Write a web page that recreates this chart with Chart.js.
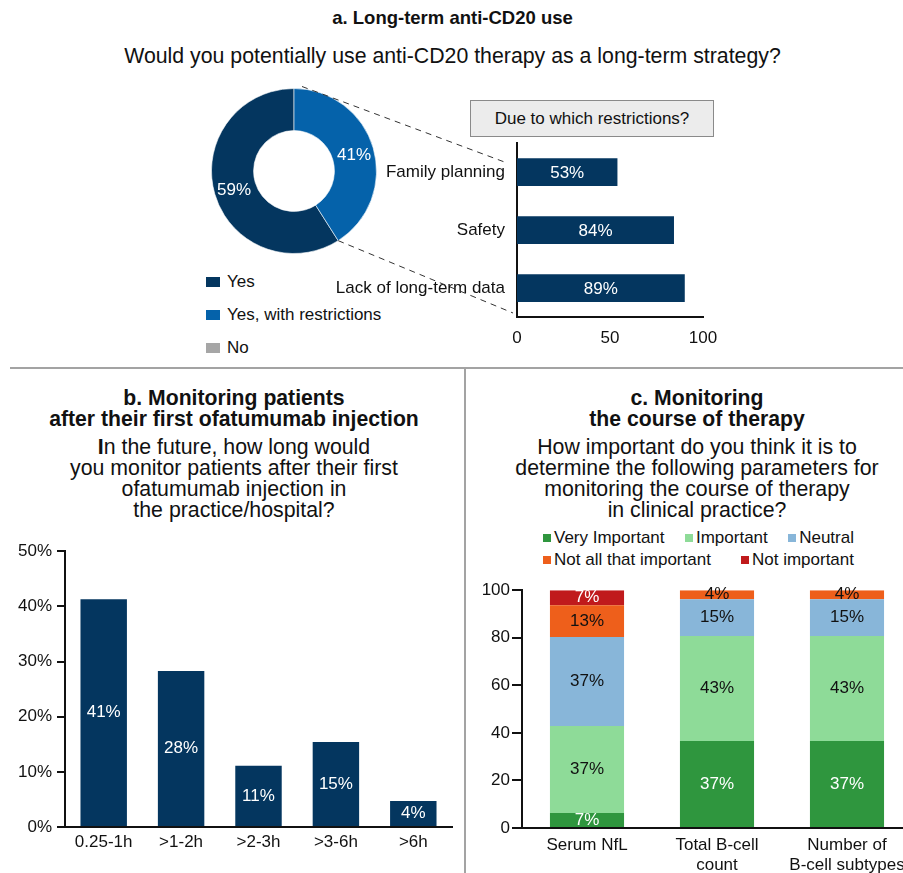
<!DOCTYPE html>
<html>
<head>
<meta charset="utf-8">
<script src="https://cdn.jsdelivr.net/npm/chart.js@4.4.1/dist/chart.umd.min.js"></script>
<style>
  html, body { margin: 0; padding: 0; background: #fff; width: 903px; height: 873px; overflow: hidden; }
  body { position: relative; font-family: "Liberation Sans", Arial, sans-serif; color: #111; }
  .abs { position: absolute; }
  .title { text-align: center; font-weight: bold; font-size: 18.5px; line-height: 20px; }
  .title.big { font-size: 21.2px; line-height: 20.5px; }
  .sub { text-align: center; font-size: 21.3px; line-height: 21px; }
  canvas { position: absolute; }
  .box { background: #ececec; border: 1px solid #8a8a8a; box-sizing: border-box; font-size: 17px; text-align: center; line-height: 35px; }
  .leg-a div { height: 33px; line-height: 33px; font-size: 17px; display: flex; align-items: center; }
  .leg-a span.sw { display: inline-block; width: 14px; height: 10px; margin-right: 7px; }
  .leg-c { display: flex; justify-content: space-between; width: 311px; font-size: 17px; line-height: 22px; }
  .leg-c span.sw { display: inline-block; width: 8px; height: 8px; margin-right: 3px; vertical-align: 1px; }
</style>
</head>
<body>

<div class="abs title" style="left:0;top:8px;width:905px">a. Long-term anti-CD20 use</div>
<div class="abs sub" style="left:0;top:46px;width:905px">Would you potentially use anti-CD20 therapy as a long-term strategy?</div>
<div class="abs box" style="left:470px;top:100px;width:244px;height:37px">Due to which restrictions?</div>
<div class="abs leg-a" id="legA" style="left:206px;top:265px"></div>

<div class="abs" style="left:10px;top:367px;width:893px;height:2px;background:#a3a3a3"></div>
<div class="abs" style="left:464px;top:369px;width:2px;height:504px;background:#a3a3a3"></div>

<div class="abs title big" style="left:0;top:388px;width:468px">b. Monitoring patients<br>after their first ofatumumab injection</div>
<div class="abs sub" style="left:0;top:437px;width:468px"><b>I</b>n the future, how long would<br>you monitor patients after their first<br>ofatumumab injection in<br>the practice/hospital?</div>

<div class="abs title big" style="left:466px;top:388px;width:462px">c. Monitoring<br>the course of therapy</div>
<div class="abs sub" style="left:466px;top:437px;width:462px">How important do you think it is to<br>determine the following parameters for<br>monitoring the course of therapy<br>in clinical practice?</div>
<div class="abs" id="legC" style="left:543px;top:527px"></div>

<canvas id="donut" width="166" height="166" style="left:211px;top:88px"></canvas>
<canvas id="restrict" width="440" height="236" style="left:300px;top:121px"></canvas>
<canvas id="monitor" width="460" height="326" style="left:0;top:536px"></canvas>
<canvas id="params" width="446" height="300" style="left:466px;top:578px"></canvas>
<canvas id="links" width="903" height="873" style="left:0;top:0;pointer-events:none"></canvas>

<script>
// a. usage question (legend order)
const useLabels = ['Yes', 'Yes, with restrictions', 'No'];
const useValues = [59, 41, 0];
const useText = ['59%', '41%', ''];
const useColors = ['#04365f', '#0562aa', '#a6a6a6'];

// a. restrictions
const restrictLabels = ['Family planning', 'Safety', 'Lack of long-term data'];
const restrictValues = [54, 84.4, 90.2];
const restrictText = ['53%', '84%', '89%'];

// b. monitoring time
const monitorLabels = ['0.25-1h', '>1-2h', '>2-3h', '>3-6h', '>6h'];
const monitorValues = [41.3, 28.3, 11.1, 15.4, 4.7];
const monitorText = ['41%', '28%', '11%', '15%', '4%'];

// c. importance of parameters
const paramLabels = [['Serum NfL'], ['Total B-cell', 'count'], ['Number of', 'B-cell subtypes']];
const levelLabels = ['Very Important', 'Important', 'Neutral', 'Not all that important', 'Not important'];
const veryImportant = [6.3, 36.6, 36.6];
const important = [36.6, 44.1, 44.1];
const neutral = [37.4, 15.5, 15.5];
const notAllThat = [13.4, 3.8, 3.8];
const notImportant = [6.3, 0, 0];
const veryImportantText = ['7%', '37%', '37%'];
const importantText = ['37%', '43%', '43%'];
const neutralText = ['37%', '15%', '15%'];
const notAllThatText = ['13%', '4%', '4%'];
const notImportantText = ['7%', '', ''];
const levelColors = ['#2f963e', '#8edb98', '#88b6d9', '#ee5f1b', '#c01a1c'];
const levelTextColors = ['#fff', '#111', '#111', '#111', '#fff'];

Chart.defaults.font.family = '"Liberation Sans", Arial, sans-serif';
Chart.defaults.font.size = 17;
Chart.defaults.color = '#111';
Chart.defaults.animation = false;
Chart.defaults.plugins.legend.display = false;
Chart.defaults.plugins.tooltip.enabled = false;

// labels inside bars / slices
function labelPlugin(texts, colors, radiusShift = 0) {
  return {
    id: 'valueLabels',
    afterDatasetsDraw(chart) {
      const ctx = chart.ctx;
      ctx.save();
      ctx.font = '17px "Liberation Sans", Arial, sans-serif';
      ctx.textAlign = 'center';
      ctx.textBaseline = 'middle';
      chart.data.datasets.forEach((ds, i) => {
        const meta = chart.getDatasetMeta(i);
        meta.data.forEach((el, j) => {
          const txt = texts[i] && texts[i][j];
          if (!txt) return;
          let x, y;
          if (meta.type === 'doughnut') {
            const p = el.getProps(['x', 'y', 'startAngle', 'endAngle', 'innerRadius', 'outerRadius'], true);
            const a = (p.startAngle + p.endAngle) / 2;
            const r = (p.innerRadius + p.outerRadius) / 2 + radiusShift;
            x = p.x + Math.cos(a) * r;
            y = p.y + Math.sin(a) * r + 2;
          } else if (chart.options.indexAxis === 'y') {
            const p = el.getProps(['x', 'y', 'base'], true);
            x = (p.x + p.base) / 2;
            y = p.y + 1;
          } else {
            const p = el.getProps(['x', 'y', 'base'], true);
            x = p.x;
            y = (p.y + p.base) / 2;
          }
          ctx.fillStyle = colors[i];
          ctx.fillText(txt, x, y);
        });
      });
      ctx.restore();
    }
  };
}

// legend a
document.getElementById('legA').innerHTML = useLabels
  .map((l, i) => `<div><span class="sw" style="background:${useColors[i]}"></span>${l}</div>`)
  .join('');

// legend c, two rows
const legRows = [[0, 1, 2], [3, 4]];
document.getElementById('legC').innerHTML = legRows
  .map(row => '<div class="leg-c">' + row
    .map(i => `<span><span class="sw" style="background:${levelColors[i]}"></span>${levelLabels[i]}</span>`)
    .join('') + '</div>')
  .join('');

/* a. DONUT */
const donut = new Chart(document.getElementById('donut'), {
  type: 'doughnut',
  data: {
    labels: useLabels,
    datasets: [{
      data: useValues,
      backgroundColor: useColors,
      borderColor: 'rgba(255,255,255,0.6)',
      borderWidth: 1,
    }],
  },
  options: {
    responsive: false,
    cutout: '49%',
    rotation: (useValues[1] / useValues.reduce((a, b) => a + b, 0)) * 360,
  },
  plugins: [labelPlugin([useText], ['#fff'], 1)],
});

/* a. RESTRICTIONS */
const axisBorder = { color: '#111', width: 2 };
const restrict = new Chart(document.getElementById('restrict'), {
  type: 'bar',
  data: {
    labels: restrictLabels,
    datasets: [{
      data: restrictValues,
      backgroundColor: '#04365f',
      barPercentage: 0.48,
      categoryPercentage: 1,
    }],
  },
  options: {
    responsive: false,
    indexAxis: 'y',
    layout: { padding: { top: 0, right: 37, left: 0, bottom: 0 } },
    scales: {
      x: {
        min: 0,
        max: 100,
        ticks: { stepSize: 50, padding: 11 },
        grid: { display: false, drawTicks: false },
        border: axisBorder,
        afterFit: (s) => { s.height = 40; },
      },
      y: {
        grid: { display: false, drawTicks: false },
        ticks: { padding: 12 },
        border: axisBorder,
        afterFit: (s) => { s.width = 217; },
      },
    },
  },
  plugins: [labelPlugin([restrictText], ['#fff'])],
});

/* b. MONITORING TIME */
new Chart(document.getElementById('monitor'), {
  type: 'bar',
  data: {
    labels: monitorLabels,
    datasets: [{
      data: monitorValues,
      backgroundColor: '#04365f',
      barPercentage: 0.6,
      categoryPercentage: 1,
    }],
  },
  options: {
    responsive: false,
    layout: { padding: { top: 0, right: 8, left: 0, bottom: 0 } },
    scales: {
      x: {
        grid: { display: false, drawTicks: false },
        ticks: { padding: 5, maxRotation: 0 },
        border: axisBorder,
        afterFit: (s) => { s.height = 35; },
      },
      y: {
        min: 0,
        max: 50,
        ticks: { stepSize: 10, padding: 5, callback: (v) => v + '%' },
        grid: { drawOnChartArea: false, tickLength: 8, color: '#111', lineWidth: 2 },
        border: axisBorder,
        afterFit: (s) => { s.width = 65; },
      },
    },
  },
  plugins: [labelPlugin([monitorText], ['#fff'])],
});

/* c. PARAMETERS (stacked) */
const levelData = [veryImportant, important, neutral, notAllThat, notImportant];
const levelText = [veryImportantText, importantText, neutralText, notAllThatText, notImportantText];
new Chart(document.getElementById('params'), {
  type: 'bar',
  data: {
    labels: paramLabels,
    datasets: levelData.map((d, i) => ({
      label: levelLabels[i],
      data: d,
      backgroundColor: levelColors[i],
      barPercentage: 0.57,
      categoryPercentage: 1,
    })),
  },
  options: {
    responsive: false,
    layout: { padding: { top: 0, right: 0, left: 0, bottom: 0 } },
    scales: {
      x: {
        stacked: true,
        grid: { display: false, drawTicks: false },
        ticks: { padding: 7, maxRotation: 0, autoSkip: false },
        border: axisBorder,
        afterFit: (s) => { s.height = 50; },
      },
      y: {
        stacked: true,
        min: 0,
        max: 100,
        ticks: { stepSize: 20, padding: 2 },
        grid: { drawOnChartArea: false, tickLength: 10, color: '#111', lineWidth: 2 },
        border: axisBorder,
        afterFit: (s) => { s.width = 56; },
      },
    },
  },
  plugins: [labelPlugin(levelText, levelTextColors)],
});

/* dashed connectors between donut and restrictions chart */
(function drawLinks() {
  const c = document.getElementById('links');
  const ctx = c.getContext('2d');
  const dEl = document.getElementById('donut');
  const rEl = document.getElementById('restrict');
  const arc = donut.getDatasetMeta(0).data[1];
  const p = arc.getProps(['x', 'y', 'startAngle', 'endAngle', 'outerRadius'], true);
  const ox = dEl.offsetLeft, oy = dEl.offsetTop;
  const area = restrict.chartArea;
  const rx = rEl.offsetLeft, ry = rEl.offsetTop;
  ctx.strokeStyle = '#333';
  ctx.lineWidth = 1;
  ctx.setLineDash([6, 5]);
  ctx.beginPath();
  ctx.moveTo(ox + p.x + Math.cos(p.startAngle) * p.outerRadius + 8, oy + p.y + Math.sin(p.startAngle) * p.outerRadius - 2);
  ctx.lineTo(rx + area.left - 12, ry + area.top + 19);
  ctx.moveTo(ox + p.x + Math.cos(p.endAngle) * p.outerRadius, oy + p.y + Math.sin(p.endAngle) * p.outerRadius);
  ctx.lineTo(rx + area.left - 4, ry + area.bottom - 4);
  ctx.stroke();
})();
</script>
</body>
</html>
